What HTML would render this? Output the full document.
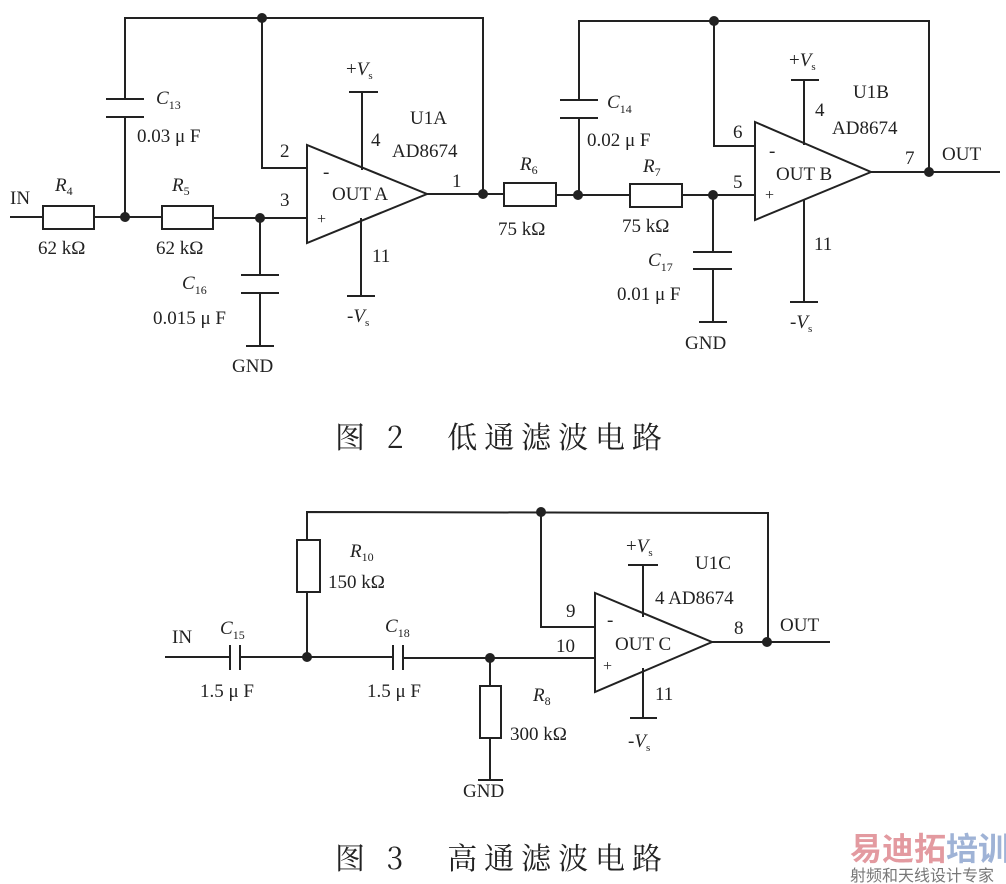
<!DOCTYPE html>
<html><head><meta charset="utf-8"><style>
html,body{margin:0;padding:0;background:#fff;}
svg{display:block;}
text{font-family:"Liberation Serif","Noto Serif CJK SC",serif;fill:#222;}
.s{font-family:"Noto Serif CJK SC","Liberation Serif",serif;}
</style></head><body>
<svg width="1006" height="884" viewBox="0 0 1006 884" xmlns="http://www.w3.org/2000/svg">
<g stroke="#222" stroke-width="2" fill="none">
<polyline points="125,99 125,18 483,18 483,194"/>
<line x1="125" y1="117" x2="125" y2="217"/>
<line x1="106" y1="99" x2="144" y2="99"/><line x1="106" y1="117" x2="144" y2="117"/>
<line x1="10" y1="217" x2="43" y2="217"/>
<rect x="43" y="206" width="51" height="23"/>
<line x1="94" y1="217" x2="162" y2="217"/>
<rect x="162" y="206" width="51" height="23"/>
<line x1="213" y1="218" x2="307" y2="218"/>
<polyline points="262,18 262,168 307,168"/>
<polygon points="307,145 307,243 427,194"/>
<line x1="362" y1="92" x2="362" y2="170"/><line x1="349" y1="92" x2="378" y2="92"/>
<line x1="361" y1="218" x2="361" y2="296"/><line x1="347" y1="296" x2="375" y2="296"/>
<line x1="260" y1="218" x2="260" y2="275"/>
<line x1="241" y1="275" x2="279" y2="275"/><line x1="241" y1="293" x2="279" y2="293"/>
<line x1="260" y1="293" x2="260" y2="346"/><line x1="246" y1="346" x2="274" y2="346"/>
<line x1="427" y1="194" x2="504" y2="194"/>
<rect x="504" y="183" width="52" height="23"/>
<line x1="556" y1="195" x2="630" y2="195"/>
<polyline points="579,100 579,21 929,21 929,172"/>
<line x1="579" y1="118" x2="579" y2="195"/>
<line x1="560" y1="100" x2="598" y2="100"/><line x1="560" y1="118" x2="598" y2="118"/>
<rect x="630" y="184" width="52" height="23"/>
<line x1="682" y1="195" x2="755" y2="195"/>
<polyline points="714,21 714,146 755,146"/>
<polygon points="755,122 755,220 871,172"/>
<line x1="871" y1="172" x2="1000" y2="172"/>
<line x1="804" y1="80" x2="804" y2="145"/><line x1="791" y1="80" x2="819" y2="80"/>
<line x1="804" y1="200" x2="804" y2="302"/><line x1="790" y1="302" x2="818" y2="302"/>
<line x1="713" y1="195" x2="713" y2="252"/>
<line x1="693" y1="252" x2="732" y2="252"/><line x1="693" y1="269" x2="732" y2="269"/>
<line x1="713" y1="269" x2="713" y2="322"/><line x1="699" y1="322" x2="727" y2="322"/>
<polyline points="307,540 307,512 768,513 768,642"/>
<rect x="297" y="540" width="23" height="52"/>
<line x1="307" y1="592" x2="307" y2="657"/>
<line x1="165" y1="657" x2="230" y2="657"/>
<line x1="230" y1="645" x2="230" y2="670"/><line x1="240" y1="645" x2="240" y2="670"/>
<line x1="240" y1="657" x2="393" y2="657"/>
<line x1="393" y1="645" x2="393" y2="670"/><line x1="403" y1="645" x2="403" y2="670"/>
<line x1="403" y1="658" x2="595" y2="658"/>
<polyline points="541,512 541,627 595,627"/>
<polygon points="595,593 595,692 712,642"/>
<line x1="712" y1="642" x2="830" y2="642"/>
<line x1="643" y1="565" x2="643" y2="617"/><line x1="628" y1="565" x2="658" y2="565"/>
<line x1="643" y1="668" x2="643" y2="718"/><line x1="630" y1="718" x2="657" y2="718"/>
<line x1="490" y1="658" x2="490" y2="686"/>
<rect x="480" y="686" width="21" height="52"/>
<line x1="490" y1="738" x2="490" y2="780"/><line x1="478" y1="780" x2="503" y2="780"/>
</g>
<g fill="#222">
<circle cx="262" cy="18" r="5"/><circle cx="125" cy="217" r="5"/><circle cx="260" cy="218" r="5"/>
<circle cx="483" cy="194" r="5"/><circle cx="578" cy="195" r="5"/><circle cx="714" cy="21" r="5"/>
<circle cx="713" cy="195" r="5"/><circle cx="929" cy="172" r="5"/>
<circle cx="541" cy="512" r="5"/><circle cx="307" cy="657" r="5"/><circle cx="490" cy="658" r="5"/><circle cx="767" cy="642" r="5"/>
</g>
<g font-size="19">
<text x="10" y="204">IN</text>
<text x="55" y="191" font-style="italic">R<tspan font-size="12" dy="4" font-style="normal">4</tspan></text>
<text x="38" y="254">62 kΩ</text>
<text x="172" y="191" font-style="italic">R<tspan font-size="12" dy="4" font-style="normal">5</tspan></text>
<text x="156" y="254">62 kΩ</text>
<text x="156" y="104" font-style="italic">C<tspan font-size="12" dy="5" font-style="normal">13</tspan></text>
<text x="137" y="142">0.03  μ F</text>
<text x="182" y="289" font-style="italic">C<tspan font-size="12" dy="5" font-style="normal">16</tspan></text>
<text x="153" y="324">0.015  μ F</text>
<text x="232" y="372">GND</text>
<text x="280" y="157">2</text><text x="280" y="206">3</text>
<text x="323" y="178">-</text><text x="317" y="224" font-size="16">+</text>
<text x="332" y="200">OUT A</text>
<text x="346" y="75">+<tspan font-style="italic">V</tspan><tspan font-size="11" dy="4">s</tspan></text>
<text x="371" y="146">4</text>
<text x="410" y="124">U1A</text>
<text x="392" y="157">AD8674</text>
<text x="452" y="187">1</text>
<text x="372" y="262">11</text>
<text x="347" y="322">-<tspan font-style="italic">V</tspan><tspan font-size="11" dy="4">s</tspan></text>
<text x="520" y="170" font-style="italic">R<tspan font-size="12" dy="4" font-style="normal">6</tspan></text>
<text x="498" y="235">75 kΩ</text>
<text x="607" y="108" font-style="italic">C<tspan font-size="12" dy="5" font-style="normal">14</tspan></text>
<text x="587" y="146">0.02  μ F</text>
<text x="643" y="172" font-style="italic">R<tspan font-size="12" dy="4" font-style="normal">7</tspan></text>
<text x="622" y="232">75 kΩ</text>
<text x="648" y="266" font-style="italic">C<tspan font-size="12" dy="5" font-style="normal">17</tspan></text>
<text x="617" y="300">0.01  μ F</text>
<text x="685" y="349">GND</text>
<text x="733" y="138">6</text><text x="733" y="188">5</text>
<text x="769" y="157">-</text><text x="765" y="200" font-size="16">+</text>
<text x="776" y="180">OUT B</text>
<text x="789" y="66">+<tspan font-style="italic">V</tspan><tspan font-size="11" dy="4">s</tspan></text>
<text x="815" y="116">4</text>
<text x="853" y="98">U1B</text>
<text x="832" y="134">AD8674</text>
<text x="905" y="164">7</text>
<text x="942" y="160">OUT</text>
<text x="814" y="250">11</text>
<text x="790" y="328">-<tspan font-style="italic">V</tspan><tspan font-size="11" dy="4">s</tspan></text>
<text x="172" y="643">IN</text>
<text x="220" y="634" font-style="italic">C<tspan font-size="12" dy="5" font-style="normal">15</tspan></text>
<text x="200" y="697">1.5  μ F</text>
<text x="350" y="557" font-style="italic">R<tspan font-size="12" dy="4" font-style="normal">10</tspan></text>
<text x="328" y="588">150 kΩ</text>
<text x="385" y="632" font-style="italic">C<tspan font-size="12" dy="5" font-style="normal">18</tspan></text>
<text x="367" y="697">1.5  μ F</text>
<text x="533" y="701" font-style="italic">R<tspan font-size="12" dy="4" font-style="normal">8</tspan></text>
<text x="510" y="740">300 kΩ</text>
<text x="463" y="797">GND</text>
<text x="566" y="617">9</text><text x="556" y="652">10</text>
<text x="607" y="626">-</text><text x="603" y="671" font-size="16">+</text>
<text x="615" y="650">OUT C</text>
<text x="626" y="552">+<tspan font-style="italic">V</tspan><tspan font-size="11" dy="4">s</tspan></text>
<text x="695" y="569">U1C</text>
<text x="655" y="604">4 AD8674</text>
<text x="734" y="634">8</text>
<text x="780" y="631">OUT</text>
<text x="655" y="700">11</text>
<text x="628" y="747">-<tspan font-style="italic">V</tspan><tspan font-size="11" dy="4">s</tspan></text>
</g>
<text class="s" x="335" y="448" font-size="30" textLength="327" lengthAdjust="spacing">图 2　低通滤波电路</text>
<text class="s" x="335" y="869" font-size="30" textLength="327" lengthAdjust="spacing">图 3　高通滤波电路</text>
<text x="850" y="860" font-size="32" font-weight="bold" style="font-family:'Noto Sans CJK SC',sans-serif;fill:#e39aa0">易迪拓<tspan style="fill:#9fb3d6">培训</tspan></text>
<text x="850" y="881" font-size="16" style="font-family:'Noto Sans CJK SC',sans-serif;fill:#777">射频和天线设计专家</text>
</svg>
</body></html>
